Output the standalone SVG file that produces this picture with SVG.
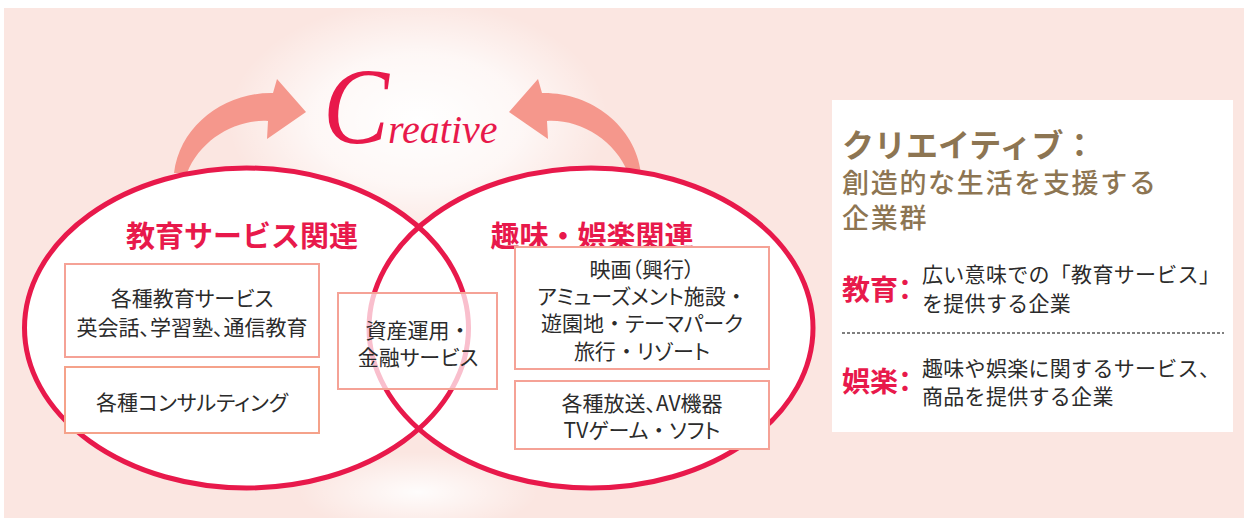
<svg xmlns="http://www.w3.org/2000/svg" width="1244" height="518" viewBox="0 0 1244 518">
<defs>
<radialGradient id="glowTop" cx="0.5" cy="0.5" r="0.5">
<stop offset="0" stop-color="#ffffff" stop-opacity="1"/>
<stop offset="0.55" stop-color="#ffffff" stop-opacity="0.7"/>
<stop offset="1" stop-color="#ffffff" stop-opacity="0"/>
</radialGradient>
<radialGradient id="glowBot" cx="0.5" cy="0.5" r="0.5">
<stop offset="0" stop-color="#ffffff" stop-opacity="0.9"/>
<stop offset="1" stop-color="#ffffff" stop-opacity="0"/>
</radialGradient>
<style>
.jp{font-family:"Noto Sans CJK JP","Noto Sans",sans-serif;}
.ttl{font-size:29px;font-weight:700;fill:#e8194b;text-anchor:middle;dominant-baseline:central;}
.box{fill:#ffffff;stroke:#f5a296;stroke-width:2;}
.bt{font-size:21px;fill:#2b2b2b;text-anchor:middle;dominant-baseline:central;font-feature-settings:"palt";}
.fw{font-feature-settings:normal;}
.ring{fill:none;stroke:#e8194b;stroke-width:5;}
.arrow{fill:#f5978c;}
.it{font-size:21px;fill:#2b2b2b;dominant-baseline:central;letter-spacing:0.3px;}
.key{font-size:28px;font-weight:700;fill:#e8194b;dominant-baseline:central;font-feature-settings:"palt";}
.brown{fill:#8d7552;dominant-baseline:central;}
</style>
</defs>
<rect x="4" y="8" width="1240" height="510" fill="#fbe6e1"/>
<ellipse cx="418" cy="120" rx="190" ry="120" fill="url(#glowTop)"/>
<ellipse cx="418" cy="492" rx="120" ry="40" fill="url(#glowBot)"/>

<g id="arrows">
<path class="arrow" d="M174,173 C180,125 225,92 273,93 L277,79 L306,112 L267,139 L268,121 C235,119 200,140 187,173 Z"/>
<path class="arrow" d="M641,173 C635,125 590,92 542,93 L538,79 L509,112 L548,139 L547,121 C580,119 615,140 628,173 Z"/>
</g>

<g id="creative">
<text x="323" y="143" font-family="Liberation Serif, serif" font-style="italic" font-size="108" fill="#e8194b" textLength="66" lengthAdjust="spacingAndGlyphs">C</text>
<text x="388" y="143" font-family="Liberation Serif, serif" font-style="italic" font-size="40" fill="#e8194b">reative</text>
</g>

<g id="circles">
<ellipse cx="246.5" cy="328" rx="222" ry="160" fill="#ffffff"/>
<ellipse cx="591" cy="328" rx="222" ry="160" fill="#ffffff"/>
<ellipse class="ring" cx="246.5" cy="328" rx="222" ry="160"/>
<ellipse class="ring" cx="591" cy="328" rx="222" ry="160"/>
</g>

<g id="education" class="jp">
<text class="ttl" x="242" y="234">教育サービス関連</text>
</g>
<g id="entertainment" class="jp">
<text class="ttl" x="592" y="234">趣味・娯楽関連</text>
</g>

<g id="box-edu1" class="jp">
<rect class="box" x="65" y="264" width="254" height="93"/>
<text class="bt" x="192" y="297">各種教育サービス</text>
<text class="bt" x="192" y="326">英会話、学習塾、通信教育</text>
</g>
<g id="box-edu2" class="jp">
<rect class="box" x="65" y="367" width="254" height="66" style="stroke:#f5a28a"/>
<text class="bt" x="192" y="401">各種コンサルティング</text>
</g>
<g id="box-finance" class="jp">
<rect x="338" y="293" width="159" height="96" fill="#ffffff" fill-opacity="0.72" stroke="#f5a296" stroke-width="2"/>
<text class="bt" x="418" y="329">資産運用<tspan class="fw">・</tspan></text>
<text class="bt" x="418" y="356">金融サービス</text>
</g>
<g id="box-ent1" class="jp">
<rect class="box" x="515" y="247" width="254" height="122"/>
<text class="bt" x="642" y="268">映画（興行）</text>
<text class="bt" x="642" y="295">アミューズメント施設<tspan class="fw">・</tspan></text>
<text class="bt" x="642" y="322">遊園地<tspan class="fw">・</tspan>テーマパーク</text>
<text class="bt" x="642" y="350">旅行<tspan class="fw">・</tspan>リゾート</text>
</g>
<g id="box-ent2" class="jp">
<rect class="box" x="515" y="381" width="254" height="68"/>
<text class="bt" x="642" y="402">各種放送、AV機器</text>
<text class="bt" x="642" y="429">TVゲーム<tspan class="fw">・</tspan>ソフト</text>
</g>

<g id="legend" class="jp">
<rect x="832" y="100" width="401" height="332" fill="#ffffff"/>
<text class="brown" x="842" y="143" font-size="32" font-weight="700">クリエイティブ：</text>
<text class="brown" x="842" y="181" font-size="27" font-weight="500" letter-spacing="1.7">創造的な生活を支援する</text>
<text class="brown" x="842" y="216" font-size="27" font-weight="500" letter-spacing="1.7">企業群</text>
<text class="key" x="842" y="288">教育：</text>
<text class="it" x="922" y="273">広い意味での「教育サービス」</text>
<text class="it" x="922" y="302">を提供する企業</text>
<line x1="842" y1="333" x2="1224" y2="333" stroke="#555555" stroke-width="1.5" stroke-dasharray="3 2"/>
<text class="key" x="842" y="380">娯楽：</text>
<text class="it" x="922" y="367">趣味や娯楽に関するサービス、</text>
<text class="it" x="922" y="395">商品を提供する企業</text>
</g>
</svg>
